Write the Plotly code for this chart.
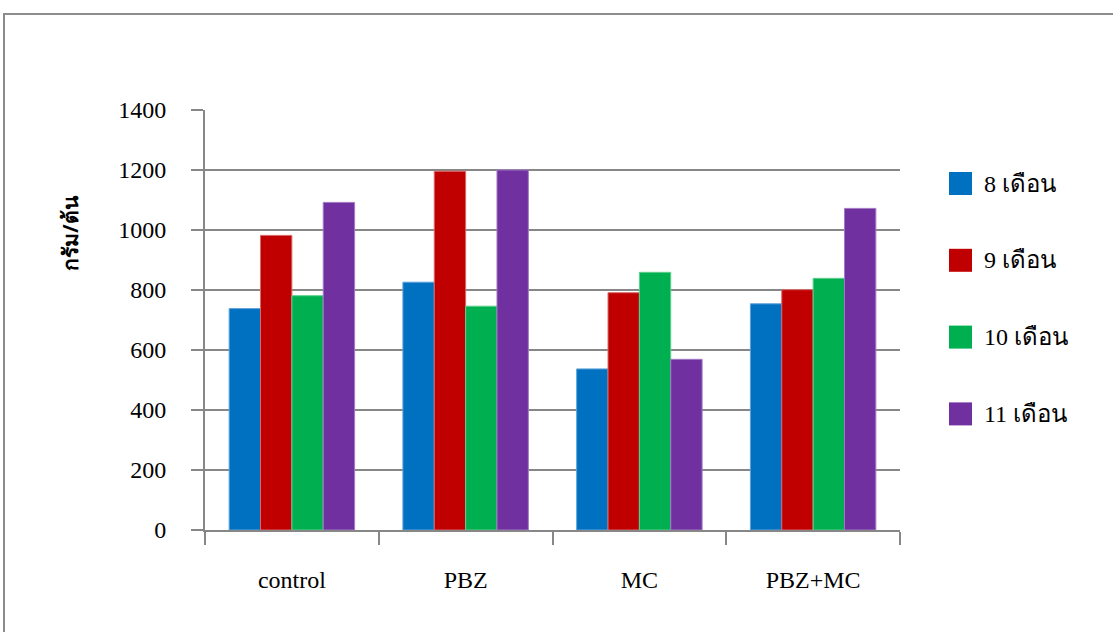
import plotly.graph_objects as go

# Treatments and monthly yield (g per plant)
categories = ["control", "PBZ", "MC", "PBZ+MC"]
series_names = ["8 เดือน", "9 เดือน", "10 เดือน", "11 เดือน"]
month_8 = [738, 826, 537, 754]
month_9 = [982, 1196, 791, 801]
month_10 = [781, 746, 859, 839]
month_11 = [1092, 1200, 569, 1072]
y_ticks = [0, 200, 400, 600, 800, 1000, 1200, 1400]

values = [month_8, month_9, month_10, month_11]
colors = ["#0070C0", "#C00000", "#00B050", "#7030A0"]
edge_colors = ["#5FA3D8", "#D96A6A", "#5FCF8F", "#A27AC4"]

W, H = 1113, 632
L, R, T, B = 205, 213, 110, 102
pw = W - L - R
ph = H - T - B
grid_color = "#878787"
serif = "Liberation Serif"


def px_x(x):
    return (x - L) / pw


def px_y(y):
    return (H - B - y) / ph


fig = go.Figure()
for name, vals, col, edge in zip(series_names, values, colors, edge_colors):
    fig.add_trace(go.Bar(
        x=categories, y=vals, name=name, showlegend=False,
        marker=dict(color=col, line=dict(color=edge, width=1)),
    ))

# legend drawn as square swatches with labels
for i, (name, col) in enumerate(zip(series_names, colors)):
    cy = 183.5 + i * 76.8
    fig.add_shape(type="rect", xref="paper", yref="paper",
                  x0=px_x(949), x1=px_x(972), y0=px_y(cy + 11.5), y1=px_y(cy - 11.5),
                  fillcolor=col, line=dict(width=0))
    fig.add_annotation(text=name, xref="paper", yref="paper",
                       x=px_x(982), y=px_y(cy), xanchor="left", yanchor="middle",
                       showarrow=False, font=dict(family=serif, size=24, color="#000"))

# outer chart border
fig.add_shape(type="rect", xref="paper", yref="paper",
              x0=px_x(4), x1=px_x(W + 20), y0=px_y(H + 20), y1=px_y(14),
              line=dict(color="#8C8C8C", width=2), layer="below")

# rotated y-axis title
fig.add_annotation(text="<b>กรัม/ต้น</b>", xref="paper", yref="paper",
                   x=px_x(70), y=px_y(233), textangle=-90,
                   showarrow=False, xanchor="center", yanchor="middle",
                   font=dict(family="Noto Sans", size=21, color="#000"))

fig.update_layout(
    width=W, height=H,
    margin=dict(l=L, r=R, t=T, b=B, pad=0),
    paper_bgcolor="white", plot_bgcolor="white",
    barmode="group", bargap=0.278, bargroupgap=0,
    showlegend=False,
    font=dict(family=serif, size=24, color="#000"),
    xaxis=dict(type="category", showline=True, linecolor=grid_color, linewidth=2,
               ticks="outside", tickson="boundaries", ticklen=13, tickcolor=grid_color,
               tickwidth=2, ticklabelstandoff=27, showgrid=False,
               tickfont=dict(family=serif, size=24, color="#000")),
    yaxis=dict(range=[0, 1400], tickvals=y_ticks, showgrid=True, gridcolor=grid_color,
               gridwidth=2, showline=True, linecolor=grid_color, linewidth=2,
               ticks="outside", ticklen=12, tickcolor=grid_color, tickwidth=2,
               ticklabelstandoff=20, zeroline=False,
               tickfont=dict(family=serif, size=24, color="#000")),
)

fig.write_html("out.html")
